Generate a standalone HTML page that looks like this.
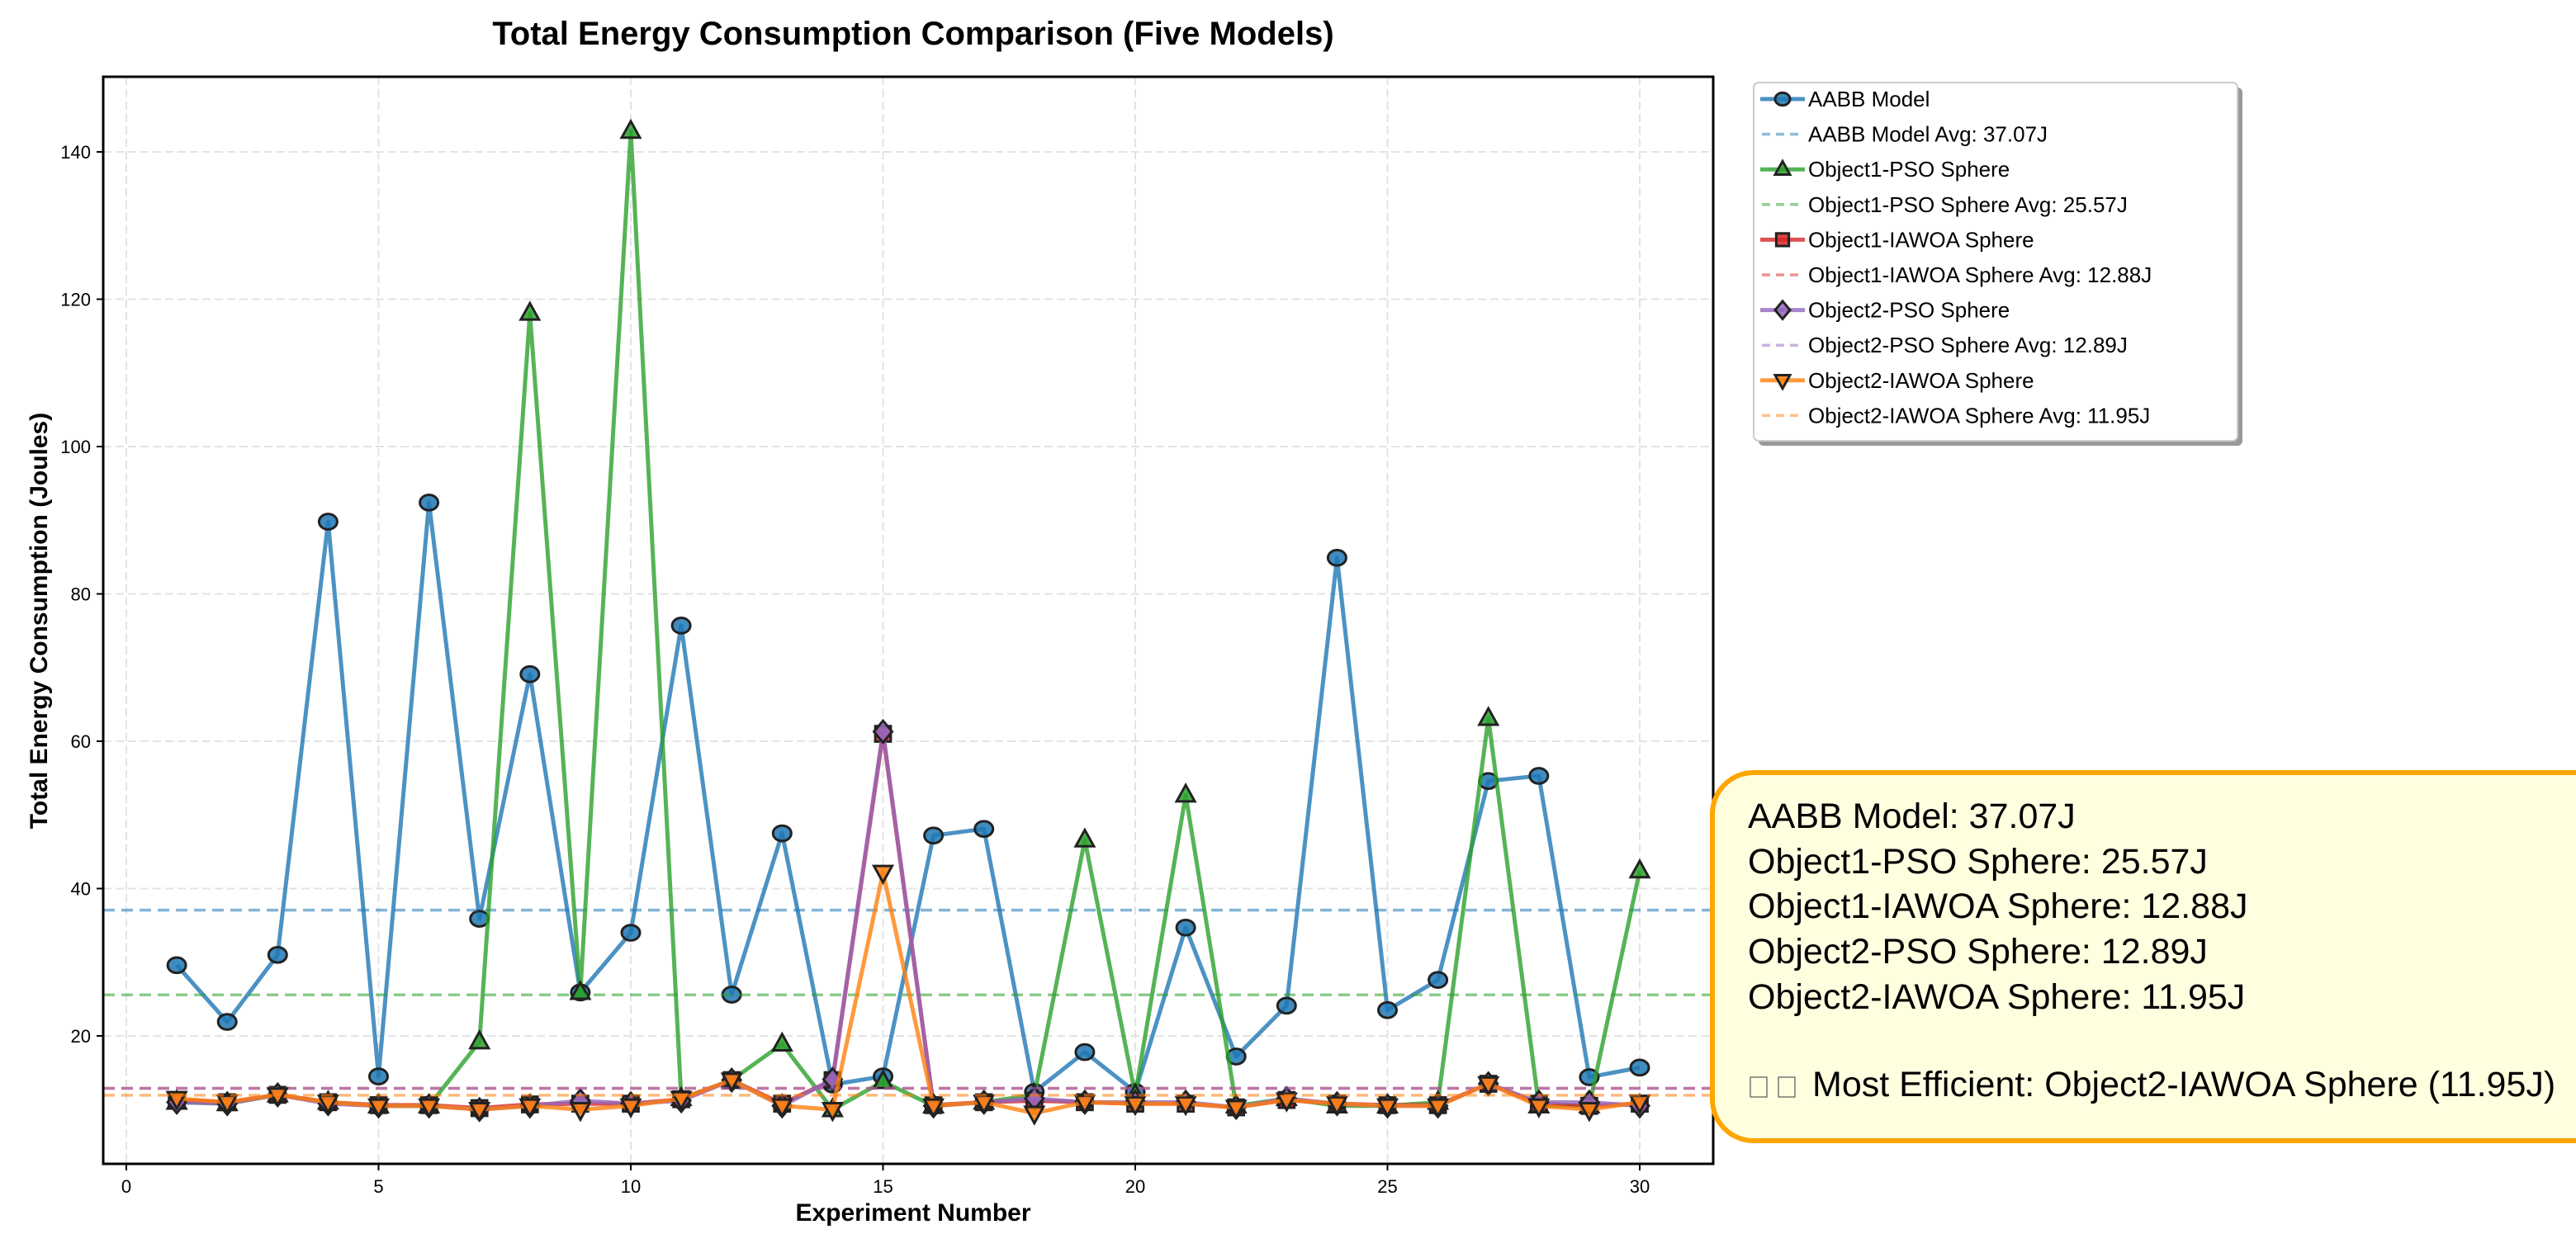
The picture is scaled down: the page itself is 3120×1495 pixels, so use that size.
<!DOCTYPE html>
<html><head><meta charset="utf-8"><style>
html,body{margin:0;padding:0;background:#fff}
svg{display:block;font-family:"Liberation Sans",Arial,sans-serif}
</style></head><body>
<svg id="chart" width="3120" height="1495" viewBox="0 0 3120 1495" xmlns="http://www.w3.org/2000/svg">
<rect width="3120" height="1495" fill="#fff"/>
<text x="1106" y="54" text-anchor="middle" font-size="40" font-weight="bold">Total Energy Consumption Comparison (Five Models)</text>
<g id="grid"></g>
<g id="series"></g>
<rect x="125" y="93" width="1950" height="1317" fill="none" stroke="#000" stroke-width="3"/>
<g id="ticks"></g>
<text x="1106" y="1479" text-anchor="middle" font-size="30" font-weight="bold">Experiment Number</text>
<text transform="translate(57,752) rotate(-90)" text-anchor="middle" font-size="30" font-weight="bold">Total Energy Consumption (Joules)</text>
<g id="legend">
<rect x="2130" y="106" width="586" height="434" rx="6" fill="#999"/>
<rect x="2124" y="100" width="586" height="434" rx="6" fill="#fff" stroke="#ccc" stroke-width="2"/>
</g>
<g>
<rect x="2074" y="936" width="1100" height="446" rx="50" fill="#ffffe0" stroke="#ffa500" stroke-width="6"/>
<g font-size="43" fill="#000">
<text x="2117" y="1003">AABB Model: 37.07J</text>
<text x="2117" y="1058">Object1-PSO Sphere: 25.57J</text>
<text x="2117" y="1112">Object1-IAWOA Sphere: 12.88J</text>
<text x="2117" y="1167">Object2-PSO Sphere: 12.89J</text>
<text x="2117" y="1222">Object2-IAWOA Sphere: 11.95J</text>
<g>
<rect x="2120" y="1305" width="20" height="24" fill="none" stroke="#555" stroke-width="1.2"/>
<rect x="2154" y="1305" width="20" height="24" fill="none" stroke="#555" stroke-width="1.2"/>
<text x="2195" y="1328">Most Efficient: Object2-IAWOA Sphere (11.95J)</text>
</g>
</g>
</g>
</svg>
<script>
const experiments = [1,2,3,4,5,6,7,8,9,10,11,12,13,14,15,16,17,18,19,20,21,22,23,24,25,26,27,28,29,30];
const aabbValues = [29.6,21.9,31.0,89.8,14.5,92.4,35.9,69.1,25.9,34.0,75.7,25.6,47.5,13.4,14.5,47.2,48.1,12.4,17.8,12.4,34.7,17.2,24.1,84.9,23.5,27.6,54.6,55.3,14.4,15.7];
const pso1Values = [11.0,10.8,12.0,11.0,10.5,10.5,19.2,118.1,25.9,142.8,11.5,14.0,18.9,10.0,13.8,10.5,11.0,12.0,46.6,12.0,52.7,10.5,11.5,10.5,10.5,11.0,63.1,10.5,10.5,42.4];
const iawoa1Values = [11.3,11.0,12.0,11.0,10.6,10.6,10.2,10.7,10.8,10.8,11.4,14.0,10.8,14.0,61.0,10.6,11.0,11.2,11.0,10.8,10.8,10.3,11.3,10.8,10.6,10.6,13.5,10.8,10.5,10.8];
const pso2Values = [11.0,10.8,12.0,10.8,10.5,10.5,10.0,10.5,11.2,10.8,11.2,14.0,10.5,14.1,61.3,10.5,11.0,11.5,11.0,11.0,11.0,10.3,11.5,10.8,10.5,10.5,13.5,11.0,11.0,10.5];
const iawoa2Values = [11.5,11.0,12.0,11.0,10.5,10.5,10.0,10.5,10.0,10.5,11.5,14.0,10.5,10.0,42.2,10.5,11.0,9.5,11.0,10.8,10.8,10.3,11.3,10.8,10.5,10.5,13.5,10.5,10.0,11.0];
const averages = [37.07,25.57,12.88,12.89,11.95];
const seriesNames = ["AABB Model","Object1-PSO Sphere","Object1-IAWOA Sphere","Object2-PSO Sphere","Object2-IAWOA Sphere"];
const xTicks = [0,5,10,15,20,25,30];
const yTicks = [20,40,60,80,100,120,140];

const NS="http://www.w3.org/2000/svg";
const X0=153, XS=61.1, Y0=1433.5, YS=8.925;
function xs(v){return X0+v*XS;}
function ys(v){return Y0-v*YS;}
function mk(tag,attrs,parent){const e=document.createElementNS(NS,tag);for(const k in attrs)e.setAttribute(k,attrs[k]);parent.appendChild(e);return e;}

const grid=document.getElementById('grid'), ticks=document.getElementById('ticks'), series=document.getElementById('series');
xTicks.forEach(t=>{
  const g=mk('line',{x1:xs(t),x2:xs(t),y1:93,y2:1410,stroke:'#e3e3e3','stroke-width':2,'stroke-dasharray':'10,5'},grid);
  
  
  mk('line',{x1:xs(t),x2:xs(t),y1:1410,y2:1418,stroke:'#000','stroke-width':2},ticks);
  const l=mk('text',{x:xs(t),y:1445,'text-anchor':'middle','font-size':22},ticks);
  l.textContent=t;
  
  
});
yTicks.forEach(t=>{
  const g=mk('line',{x1:125,x2:2075,y1:ys(t),y2:ys(t),stroke:'#e3e3e3','stroke-width':2,'stroke-dasharray':'10,5'},grid);
  
  
  mk('line',{x1:117,x2:125,y1:ys(t),y2:ys(t),stroke:'#000','stroke-width':2},ticks);
  const l=mk('text',{x:110,y:ys(t)+8,'text-anchor':'end','font-size':22},ticks);
  l.textContent=t;
  
  
});

const colors=['#1f77b4','#2ca02c','#d62728','#9467bd','#ff7f0e'];
const markers=['circle','tri','square','diamond','tridown'];
const allVals=[aabbValues,pso1Values,iawoa1Values,pso2Values,iawoa2Values];
const slugs=['aabb','obj1-pso','obj1-iawoa','obj2-pso','obj2-iawoa'];

function marker(type,cx,cy,color,parent,s){
  s=s||11;
  const st={fill:color,stroke:'#222','stroke-width':3};
  let e;
  if(type==='circle') e=mk('ellipse',Object.assign({cx:cx,cy:cy,rx:s,ry:s*0.85},st),parent);
  else if(type==='square') e=mk('rect',Object.assign({x:cx-s*0.85,y:cy-s*0.85,width:s*1.7,height:s*1.7},st),parent);
  else if(type==='tri') e=mk('polygon',Object.assign({points:`${cx},${cy-s*1.1} ${cx-s},${cy+s*0.7} ${cx+s},${cy+s*0.7}`},st),parent);
  else if(type==='tridown') e=mk('polygon',Object.assign({points:`${cx},${cy+s*1.1} ${cx-s},${cy-s*0.7} ${cx+s},${cy-s*0.7}`},st),parent);
  else e=mk('polygon',Object.assign({points:`${cx},${cy-s*1.2} ${cx+s},${cy} ${cx},${cy+s*1.2} ${cx-s},${cy}`},st),parent);
  return e;
}

allVals.forEach((vals,i)=>{
  const g=mk('g',{},series);
  
  
  const pts=experiments.map((e,k)=>xs(e)+','+ys(vals[k])).join(' ');
  const pl=mk('polyline',{points:pts,fill:'none',stroke:colors[i],'stroke-width':5,'stroke-opacity':0.8,'stroke-linejoin':'round'},g);
  
  
  experiments.forEach((e,k)=>{
    const m=marker(markers[i],xs(e),ys(vals[k]),colors[i],g);
    m.setAttribute('fill-opacity',0.85);
    
    
  });
  const av=mk('line',{x1:125,x2:2075,y1:ys(averages[i]),y2:ys(averages[i]),stroke:colors[i],'stroke-width':3.5,'stroke-opacity':0.55,'stroke-dasharray':'14,8'},series);
  
  
});

const leg=document.getElementById('legend');
for(let i=0;i<5;i++){
  const y1=120+i*85.2, y2=y1+42.6;
  const e=mk('g',{},leg);
  
  
  mk('line',{x1:2132,x2:2186,y1:y1,y2:y1,stroke:colors[i],'stroke-width':5,'stroke-opacity':0.8},e);
  marker(markers[i],2159,y1,colors[i],e,9).setAttribute('fill-opacity',0.85);
  const t=mk('text',{x:2190,y:y1+9,'font-size':26},e);
  t.textContent=seriesNames[i];
  const e2=mk('g',{},leg);
  
  
  mk('line',{x1:2134,x2:2184,y1:y2,y2:y2,stroke:colors[i],'stroke-width':3.5,'stroke-opacity':0.5,'stroke-dasharray':'10,7'},e2);
  const t2=mk('text',{x:2190,y:y2+9,'font-size':26},e2);
  t2.textContent=seriesNames[i]+' Avg: '+averages[i].toFixed(2)+'J';
}
</script>
</body></html>
